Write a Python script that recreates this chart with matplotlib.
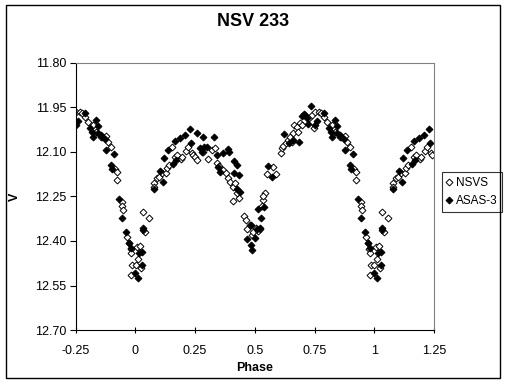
import numpy as np
import matplotlib
matplotlib.use("Agg")
from matplotlib import pyplot as plt
from matplotlib.patches import Rectangle

plt.rcParams['font.family'] = ['Liberation Sans', 'DejaVu Sans']

# Data: phase (0..1) and V magnitude
nsvs_phase = [0.001, 0.006, 0.010, 0.020, 0.022, 0.031, 0.041, 0.056, 0.078, 0.080,
              0.089, 0.099, 0.112, 0.128, 0.134, 0.140, 0.152, 0.166, 0.176, 0.190,
              0.194, 0.212, 0.222, 0.236, 0.240, 0.251, 0.257, 0.285, 0.306, 0.320,
              0.334, 0.341, 0.352, 0.369, 0.380, 0.390, 0.397, 0.411, 0.418, 0.411,
              0.436, 0.425, 0.457, 0.464, 0.469, 0.478, 0.487, 0.494, 0.506, 0.515,
              0.522, 0.534, 0.541, 0.536, 0.529, 0.550, 0.578, 0.589, 0.610, 0.613,
              0.620, 0.630, 0.637, 0.648, 0.655, 0.662, 0.666, 0.676, 0.683, 0.690,
              0.697, 0.711, 0.725, 0.739, 0.746, 0.753, 0.767, 0.777, 0.788, 0.804,
              0.824, 0.837, 0.858, 0.879, 0.886, 0.897, 0.916, 0.925, 0.925, 0.946,
              0.946, 0.948, 0.967, 0.973, 0.980, 0.983, 0.987, 0.983]
nsvs_v = [12.481, 12.421, 12.459, 12.417, 12.492, 12.303, 12.369, 12.324, 12.206, 12.219,
          12.187, 12.183, 12.170, 12.172, 12.155, 12.144, 12.084, 12.116, 12.110, 12.125,
          12.116, 12.096, 12.084, 12.102, 12.111, 12.116, 12.127, 12.099, 12.125, 12.093,
          12.088, 12.138, 12.147, 12.161, 12.170, 12.189, 12.200, 12.217, 12.206, 12.266,
          12.255, 12.237, 12.316, 12.329, 12.361, 12.346, 12.380, 12.369, 12.357, 12.365,
          12.361, 12.262, 12.237, 12.250, 12.282, 12.174, 12.149, 12.174, 12.105, 12.088,
          12.080, 12.071, 12.060, 12.048, 12.065, 12.037, 12.009, 12.015, 12.031, 12.001,
          12.009, 11.975, 11.987, 11.975, 12.020, 11.964, 11.964, 11.970, 11.983, 11.998,
          12.009, 12.031, 12.051, 12.046, 12.065, 12.082, 12.157, 12.169, 12.194, 12.270,
          12.282, 12.296, 12.385, 12.406, 12.428, 12.442, 12.481, 12.515]

asas_phase = [0.000, 0.010, 0.017, 0.027, 0.027, 0.034, 0.031, 0.078, 0.103, 0.117,
              0.122, 0.135, 0.159, 0.169, 0.166, 0.187, 0.208, 0.229, 0.233, 0.260,
              0.285, 0.288, 0.271, 0.278, 0.299, 0.331, 0.341, 0.348, 0.355, 0.366,
              0.387, 0.391, 0.415, 0.425, 0.415, 0.432, 0.427, 0.439, 0.466, 0.485,
              0.487, 0.483, 0.499, 0.508, 0.520, 0.513, 0.527, 0.539, 0.557, 0.571,
              0.624, 0.645, 0.659, 0.686, 0.697, 0.707, 0.718, 0.723, 0.736, 0.753,
              0.760, 0.791, 0.809, 0.834, 0.846, 0.818, 0.823, 0.844, 0.855, 0.860,
              0.872, 0.878, 0.911, 0.899, 0.904, 0.930, 0.946, 0.962, 0.973, 0.983]
asas_v = [12.507, 12.526, 12.442, 12.438, 12.481, 12.355, 12.363, 12.226, 12.163, 12.200,
          12.121, 12.093, 12.140, 12.127, 12.063, 12.052, 12.043, 12.024, 12.069, 12.037,
          12.048, 12.082, 12.088, 12.099, 12.082, 12.051, 12.110, 12.149, 12.166, 12.105,
          12.091, 12.099, 12.131, 12.144, 12.172, 12.178, 12.226, 12.235, 12.394, 12.413,
          12.430, 12.346, 12.391, 12.361, 12.357, 12.293, 12.324, 12.287, 12.147, 12.183,
          12.040, 12.069, 12.060, 12.065, 11.979, 11.973, 11.987, 12.007, 11.945, 12.009,
          11.994, 11.970, 12.018, 11.992, 12.012, 12.031, 12.048, 12.037, 12.043, 12.051,
          12.057, 12.093, 12.107, 12.143, 12.157, 12.260, 12.324, 12.371, 12.406, 12.425]

x_ticks = [-0.25, 0, 0.25, 0.5, 0.75, 1, 1.25]
x_ticklabels = ["-0.25", "0", "0.25", "0.5", "0.75", "1", "1.25"]
y_ticks = [11.80, 11.95, 12.10, 12.25, 12.40, 12.55, 12.70]


def extend(phase, v):
    # repeat the ends of the cycle so the plot runs from -0.25 to 1.25
    phase = np.array(phase)
    v = np.array(v)
    lo = phase >= 0.75
    hi = phase <= 0.25
    return (np.concatenate([phase[lo] - 1, phase, phase[hi] + 1]),
            np.concatenate([v[lo], v, v[hi]]))


fig = plt.figure(figsize=(5.07, 3.84), dpi=100)
fig.patches.append(Rectangle((0.012, 0.016), 0.974, 0.971, transform=fig.transFigure,
                             fill=False, edgecolor="black", linewidth=1))
ax = fig.add_axes([0.149, 0.1406, 0.707, 0.6954])

px, pv = extend(nsvs_phase, nsvs_v)
ax.plot(px, pv, linestyle="none", marker="D", markersize=3.5, markerfacecolor="white",
        markeredgecolor="black", markeredgewidth=0.7, label="NSVS")
px, pv = extend(asas_phase, asas_v)
ax.plot(px, pv, linestyle="none", marker="D", markersize=3.5, markerfacecolor="black",
        markeredgecolor="black", markeredgewidth=0.7, label="ASAS-3")

ax.set_xlim(-0.25, 1.25)
ax.set_ylim(12.70, 11.80)
ax.set_xticks(x_ticks)
ax.set_xticklabels(x_ticklabels)
ax.set_yticks(y_ticks)
ax.set_yticklabels(["%.2f" % t for t in y_ticks])
ax.tick_params(axis="x", direction="inout", length=5, width=0.8, labelsize=9, pad=8)
ax.tick_params(axis="y", direction="out", length=4, width=0.8, labelsize=9, pad=2.5)
for s in ["top", "right"]:
    ax.spines[s].set_color("#808080")
    ax.spines[s].set_linewidth(0.8)
for s in ["left", "bottom"]:
    ax.spines[s].set_linewidth(0.8)

ax.set_xlabel("Phase", fontsize=9, fontweight="bold", labelpad=4)
ax.set_ylabel("V", fontsize=9, fontweight="bold", labelpad=10)
fig.text(0.499, 0.943, "NSV 233", ha="center", va="center", fontsize=13, fontweight="bold")

leg = ax.legend(loc="center left", bbox_to_anchor=(0.871, 0.5), bbox_transform=fig.transFigure,
                fontsize=8.5, frameon=True, fancybox=False, handlelength=0.5, handletextpad=0.3,
                borderpad=0.4, labelspacing=0.55, borderaxespad=0)
leg.get_frame().set_edgecolor("black")
leg.get_frame().set_linewidth(0.8)

fig.savefig("out.png", dpi=100)
